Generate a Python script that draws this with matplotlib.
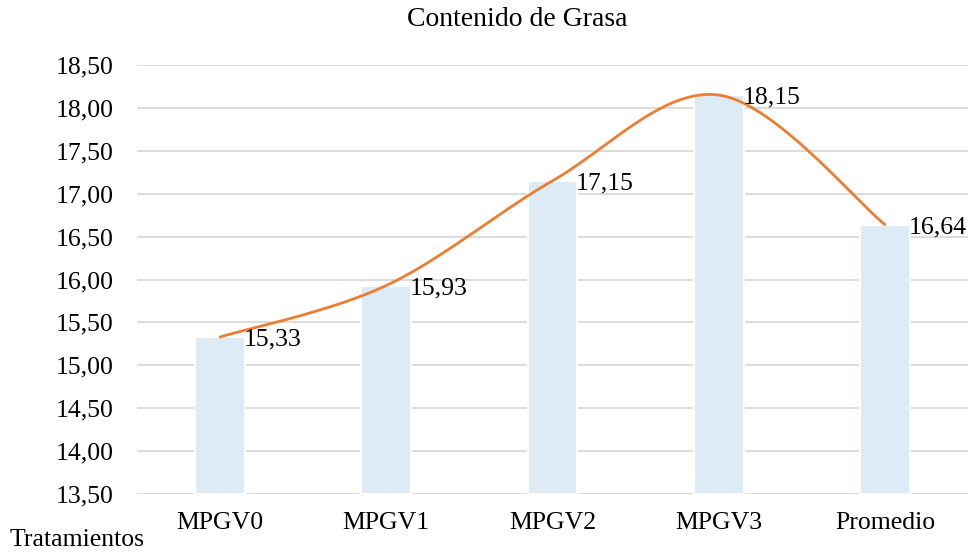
import matplotlib.pyplot as plt
import numpy as np

categories = ["MPGV0", "MPGV1", "MPGV2", "MPGV3", "Promedio"]
grasa = [15.33, 15.93, 17.15, 18.15, 16.64]
y_ticks = [13.5, 14.0, 14.5, 15.0, 15.5, 16.0, 16.5, 17.0, 17.5, 18.0, 18.5]

plt.rcParams['font.family'] = ['Liberation Serif', 'DejaVu Serif']


def smooth_curve(xs, ys, n=40):
    # Bezier segments like Excel's "smoothed line"
    pts = np.column_stack([xs, ys]).astype(float)
    out = []
    for i in range(len(pts) - 1):
        p0 = pts[max(i - 1, 0)]
        p1 = pts[i]
        p2 = pts[i + 1]
        p3 = pts[min(i + 2, len(pts) - 1)]
        c1 = p1 + (p2 - p0) / 6.0
        c2 = p2 - (p3 - p1) / 6.0
        t = np.linspace(0, 1, n)[:, None]
        seg = ((1 - t) ** 3) * p1 + 3 * ((1 - t) ** 2) * t * c1 + 3 * (1 - t) * t ** 2 * c2 + t ** 3 * p2
        out.append(seg if i == 0 else seg[1:])
    out = np.vstack(out)
    return out[:, 0], out[:, 1]


fig = plt.figure(figsize=(9.73, 5.56), dpi=100)
ax = fig.add_axes([137 / 973, 1 - 494 / 556, (968 - 137) / 973, (494 - 65) / 556])

x = np.arange(len(categories))
ax.bar(x, [v - 13.5 for v in grasa], bottom=13.5, width=0.3, color='#DDEBF7',
       edgecolor='white', linewidth=1.5, zorder=2)

sx, sy = smooth_curve(x, grasa)
ax.plot(sx, sy, color='#ED7D31', linewidth=2.0, zorder=3, solid_capstyle='round')

for xi, v in zip(x, grasa):
    ax.annotate(f"{v:.2f}".replace('.', ','), (xi, v), xytext=(17, -2),
                textcoords='offset points', ha='left', va='center', fontsize=18.5, zorder=4)

ax.set_xlim(-0.5, len(categories) - 0.5)
ax.set_ylim(13.5, 18.5)
ax.set_yticks(y_ticks)
ax.set_yticklabels([f"{t:.2f}".replace('.', ',') for t in y_ticks])
ax.set_xticks(x)
ax.set_xticklabels(categories)
ax.tick_params(axis='both', length=0, labelsize=18.5)
ax.tick_params(axis='y', pad=17)
ax.tick_params(axis='x', pad=13)
ax.grid(axis='y', color='#D9D9D9', linewidth=1.3, zorder=0)
ax.set_axisbelow(True)
for s in ax.spines.values():
    s.set_visible(False)

fig.text(517 / 973, 1 - 20 / 556, "Contenido de Grasa", ha='center', va='center', fontsize=20)
fig.text(10 / 973, 1 - 540 / 556, "Tratamientos", ha='left', va='center', fontsize=18.5)

fig.savefig("out.png", dpi=100)
